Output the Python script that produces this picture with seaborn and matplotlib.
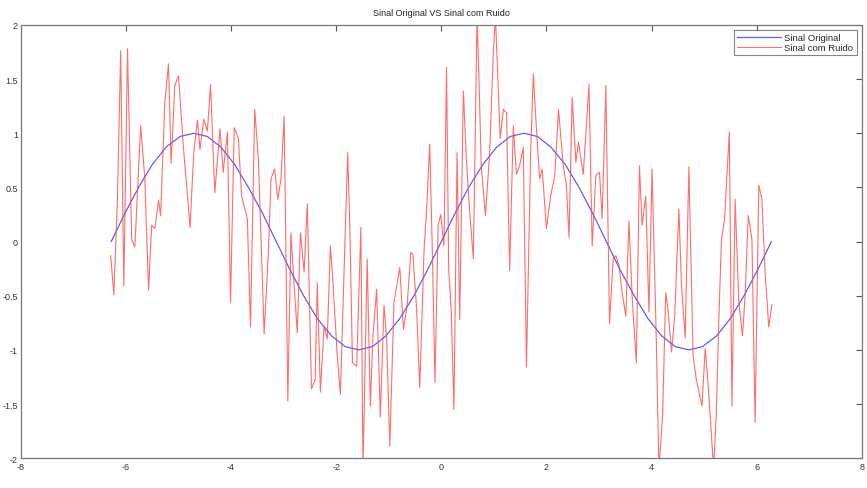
import matplotlib
matplotlib.use("Agg")
import matplotlib.pyplot as plt
import numpy as np
import pandas as pd
import seaborn as sns
from matplotlib.ticker import FuncFormatter

# --- Sinal original ---
orig_x = [-6.28, -6.02, -5.76, -5.50, -5.24, -4.97, -4.71, -4.45, -4.19, -3.93, -3.67, -3.40,
          -3.14, -2.88, -2.62, -2.36, -2.09, -1.83, -1.57, -1.31, -1.05, -0.79, -0.52, -0.26,
          0.00, 0.26, 0.52, 0.79, 1.05, 1.31, 1.57, 1.83, 2.09, 2.36, 2.62, 2.88,
          3.14, 3.40, 3.67, 3.93, 4.19, 4.45, 4.71, 4.97, 5.24, 5.50, 5.76, 6.02, 6.28]
orig_y = [0.00, 0.26, 0.50, 0.71, 0.87, 0.97, 1.00, 0.97, 0.87, 0.71, 0.50, 0.26,
          0.00, -0.26, -0.50, -0.71, -0.87, -0.97, -1.00, -0.97, -0.87, -0.71, -0.50, -0.26,
          0.00, 0.26, 0.50, 0.71, 0.87, 0.97, 1.00, 0.97, 0.87, 0.71, 0.50, 0.26,
          0.00, -0.26, -0.50, -0.71, -0.87, -0.97, -1.00, -0.97, -0.87, -0.71, -0.50, -0.26, 0.00]

# --- Sinal com ruido, read segment by segment ---
seg1_x = [-6.29, -6.23, -6.16, -6.10, -6.04, -5.97, -5.89, -5.83, -5.72, -5.64, -5.57, -5.51,
          -5.45, -5.38, -5.34, -5.26, -5.19, -5.14, -5.07, -5.00, -4.91, -4.78, -4.71, -4.64,
          -4.59, -4.52, -4.45, -4.39, -4.31]
seg1_y = [-0.13, -0.49, 0.42, 1.76, -0.41, 1.78, 0.02, -0.05, 1.07, 0.58, -0.45, 0.15,
          0.12, 0.38, 0.24, 1.29, 1.64, 0.72, 1.44, 1.53, 0.89, 0.13, 0.82, 1.12,
          0.85, 1.13, 1.02, 1.45, 0.45]
seg2_x = [-4.21, -4.15, -4.07, -4.01, -3.94, -3.86, -3.80, -3.69, -3.63, -3.55, -3.48, -3.37,
          -3.29, -3.24, -3.17, -3.11, -3.05, -2.99, -2.92, -2.86, -2.80, -2.74, -2.68, -2.61,
          -2.55, -2.47, -2.40, -2.36, -2.30, -2.23, -2.17, -2.11]
seg2_y = [1.04, 0.64, 1.01, -0.56, 1.05, 0.95, 0.42, 0.21, -0.79, 1.22, 0.76, -0.85,
          -0.10, 0.58, 0.67, 0.39, 0.58, 1.16, -1.47, 0.08, -0.41, -0.84, 0.08, -0.28,
          0.35, -1.36, -1.27, -0.38, -1.39, -0.78, -0.90, -0.04]
seg3_x = [-2.06, -1.98, -1.92, -1.83, -1.78, -1.74, -1.69, -1.61, -1.53, -1.49, -1.41, -1.35,
          -1.30, -1.23, -1.16, -1.09, -1.04, -0.98, -0.90, -0.79, -0.72, -0.65, -0.58, -0.54,
          -0.47, -0.41, -0.33, -0.28, -0.22, -0.17, -0.12, -0.06, -0.01, 0.05, 0.10]
seg3_y = [-0.38, -1.05, -1.41, 0.05, 0.82, 0.12, -1.12, -1.15, 0.13, -2.10, -0.16, -1.52,
          -0.87, -0.44, -1.62, -0.59, -0.90, -1.89, -0.56, -0.24, -0.81, -0.59, -0.10, -0.12,
          -0.62, -1.35, -0.10, 0.30, 0.90, -0.10, -1.30, 0.15, 0.25, -0.04, 1.61]
seg4_x = [0.14, 0.19, 0.24, 0.30, 0.35, 0.42, 0.48, 0.54, 0.61, 0.68, 0.72, 0.76,
          0.84, 0.92, 0.99, 1.03, 1.08, 1.12, 1.18, 1.24, 1.30, 1.37, 1.43, 1.49,
          1.56, 1.62, 1.70, 1.75, 1.81, 1.87, 1.92, 2.00, 2.08, 2.16, 2.23]
seg4_y = [-0.25, -0.65, -1.55, 0.82, -0.72, 1.39, 0.73, 0.27, -0.16, 2.08, 1.44, 0.70,
          0.24, 0.82, 1.75, 2.08, 1.44, 0.95, 1.22, 1.19, -0.27, 1.07, 0.62, 0.70,
          0.87, -1.16, 0.82, 1.55, 1.04, 0.58, 0.67, 0.12, 0.42, 0.61, 1.22]
seg5_x = [2.32, 2.38, 2.43, 2.49, 2.56, 2.61, 2.70, 2.76, 2.81, 2.87, 2.94, 3.01,
          3.06, 3.13, 3.20, 3.27, 3.32, 3.38, 3.44, 3.51, 3.57, 3.63, 3.71, 3.77,
          3.82, 3.89, 3.95, 4.01, 4.09, 4.14, 4.21, 4.27, 4.31, 4.38, 4.44]
seg5_y = [0.70, 0.52, 0.04, 1.33, 0.73, 0.92, 0.62, 1.07, 1.45, -0.04, 0.61, 0.64,
          0.21, 1.44, -0.76, -0.16, -0.13, -0.22, -0.47, -0.69, 0.19, -0.50, -1.12, 0.70,
          0.15, 0.42, -0.65, 0.67, -0.90, -2.10, -1.61, -0.47, -0.62, -1.02, -0.69]
seg6_x = [4.52, 4.57, 4.64, 4.71, 4.76, 4.79, 4.85, 4.96, 5.02, 5.06, 5.12, 5.18,
          5.23, 5.28, 5.33, 5.39, 5.44, 5.48, 5.53, 5.59, 5.66, 5.73, 5.78, 5.84,
          5.91, 5.97, 6.04, 6.10, 6.16, 6.23, 6.29]
seg6_y = [0.30, -0.41, -0.89, 0.69, -0.41, -1.05, -1.27, -1.52, -0.99, -1.21, -1.64, -2.10,
          -1.61, -0.72, 0.02, 0.21, 0.67, 1.01, -1.52, 0.39, -0.56, -0.87, -0.50, 0.24,
          0.02, -1.67, 0.52, 0.39, -0.28, -0.79, -0.58]

x_ticks = [-8, -6, -4, -2, 0, 2, 4, 6, 8]
y_ticks = [-2, -1.5, -1, -0.5, 0, 0.5, 1, 1.5, 2]

noisy_x = seg1_x + seg2_x + seg3_x + seg4_x + seg5_x + seg6_x
noisy_y = seg1_y + seg2_y + seg3_y + seg4_y + seg5_y + seg6_y

df_orig = pd.DataFrame({"x": orig_x, "y": orig_y})
df_noisy = pd.DataFrame({"x": noisy_x, "y": noisy_y})

sns.set_style("white")
plt.rcParams["font.family"] = ["Liberation Sans", "DejaVu Sans"]
plt.rcParams["axes.unicode_minus"] = False

fig = plt.figure(figsize=(8.67, 4.89), dpi=100)
ax = fig.add_axes([0.024, 0.061, 0.970, 0.886])

sns.lineplot(data=df_orig, x="x", y="y", ax=ax, color="#5c5cff", linewidth=0.9,
             estimator=None, sort=False, label="Sinal Original")
sns.lineplot(data=df_noisy, x="x", y="y", ax=ax, color="#ff4848", linewidth=0.8,
             estimator=None, sort=False, label="Sinal com Ruido", alpha=0.8)

ax.set_xlim(-8, 8)
ax.set_ylim(-2, 2)
ax.set_xticks(x_ticks)
ax.set_yticks(y_ticks)
ax.xaxis.set_major_formatter(FuncFormatter(lambda v, p: f"{v:g}"))
ax.yaxis.set_major_formatter(FuncFormatter(lambda v, p: f"{v:g}"))
ax.set_xlabel("")
ax.set_ylabel("")
ax.set_title("Sinal Original VS Sinal com Ruido", fontsize=6.5, color="#222222", pad=7)

ax.tick_params(direction="in", length=4, width=0.8, color="#555555", labelsize=6.5,
               labelcolor="#333333", top=True, right=True, pad=3)
ax.tick_params(axis="y", pad=2)
for sp in ax.spines.values():
    sp.set_color("#777777")
    sp.set_linewidth(0.9)

leg = ax.legend(loc="upper right", fontsize=6.8, frameon=True, fancybox=False,
                borderpad=0.35, handlelength=4.6, handletextpad=0.4, labelspacing=0.05,
                borderaxespad=0.55)
leg.get_frame().set_edgecolor("#666666")
leg.get_frame().set_linewidth(0.8)

fig.savefig("out.png", dpi=100)
